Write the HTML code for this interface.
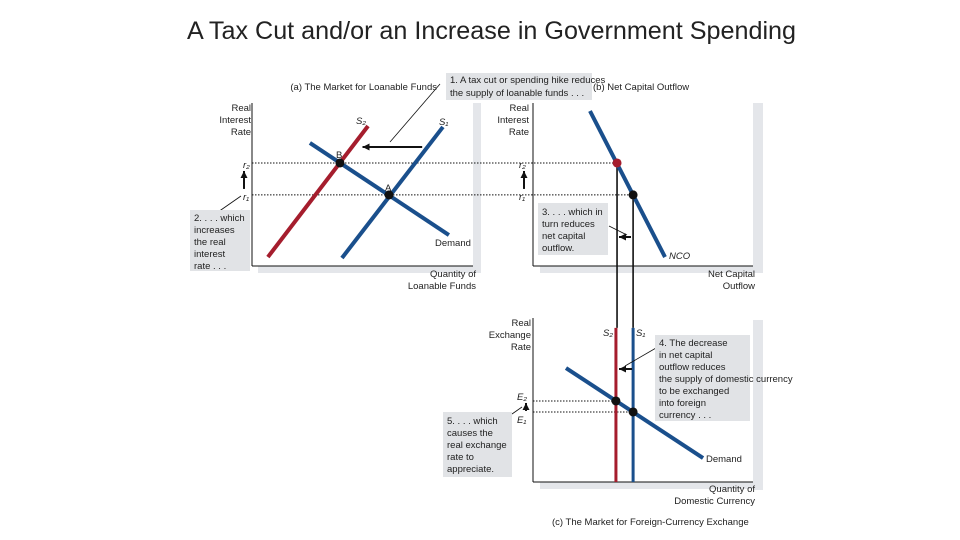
<!DOCTYPE html>
<html><head><meta charset="utf-8"><style>
html,body{margin:0;padding:0;background:#fff;}
svg{display:block;font-family:"Liberation Sans",sans-serif;}
</style></head><body>
<svg id="chart" width="960" height="540" viewBox="0 0 960 540" xmlns="http://www.w3.org/2000/svg">
<text x="187" y="39" font-size="25" textLength="609" lengthAdjust="spacingAndGlyphs" fill="#222">A Tax Cut and/or an Increase in Government Spending</text>
<!-- panel shadows -->
<rect x="473" y="103" width="8" height="170" fill="#e4e6ea"/>
<rect x="258" y="266" width="222" height="7" fill="#e4e6ea"/>
<rect x="753" y="103" width="10" height="170" fill="#e4e6ea"/>
<rect x="540" y="266" width="222" height="7" fill="#e4e6ea"/>
<rect x="753" y="320" width="10" height="170" fill="#e4e6ea"/>
<rect x="540" y="482" width="222" height="7" fill="#e4e6ea"/>
<g id="marks"></g>
<g id="labels" font-size="9.5" fill="#222">
<text x="437" y="90" text-anchor="end">(a) The Market for Loanable Funds</text>
<rect x="446" y="73" width="146" height="27" fill="#e1e3e6"/>
<text x="450" y="83">1. A tax cut or spending hike reduces</text>
<text x="450" y="96">the supply of loanable funds . . .</text>
<text x="593" y="90">(b) Net Capital Outflow</text>
<text x="251" y="111" text-anchor="end">Real</text>
<text x="251" y="123" text-anchor="end">Interest</text>
<text x="251" y="135" text-anchor="end">Rate</text>
<text x="529" y="111" text-anchor="end">Real</text>
<text x="529" y="123" text-anchor="end">Interest</text>
<text x="529" y="135" text-anchor="end">Rate</text>
<text x="476" y="277" text-anchor="end">Quantity of</text>
<text x="476" y="289" text-anchor="end">Loanable Funds</text>
<text x="755" y="277" text-anchor="end">Net Capital</text>
<text x="755" y="289" text-anchor="end">Outflow</text>
<text x="531" y="326" text-anchor="end">Real</text>
<text x="531" y="338" text-anchor="end">Exchange</text>
<text x="531" y="350" text-anchor="end">Rate</text>
<text x="755" y="492" text-anchor="end">Quantity of</text>
<text x="755" y="504" text-anchor="end">Domestic Currency</text>
<text x="552" y="525">(c) The Market for Foreign-Currency Exchange</text>
<rect x="190" y="210" width="60" height="61" fill="#e1e3e6"/>
<text x="194" y="221">2. . . . which</text>
<text x="194" y="233">increases</text>
<text x="194" y="245">the real</text>
<text x="194" y="257">interest</text>
<text x="194" y="269">rate . . .</text>
<rect x="538" y="203" width="70" height="52" fill="#e1e3e6"/>
<text x="542" y="215">3. . . . which in</text>
<text x="542" y="227">turn reduces</text>
<text x="542" y="239">net capital</text>
<text x="542" y="251">outflow.</text>
<rect x="655" y="335" width="95" height="86" fill="#e1e3e6"/>
<text x="659" y="346">4. The decrease</text>
<text x="659" y="358">in net capital</text>
<text x="659" y="370">outflow reduces</text>
<text x="659" y="382">the supply of domestic currency</text>
<text x="659" y="394">to be exchanged</text>
<text x="659" y="406">into foreign</text>
<text x="659" y="418">currency . . .</text>
<rect x="443" y="412" width="69" height="65" fill="#e1e3e6"/>
<text x="447" y="424">5. . . . which</text>
<text x="447" y="436">causes the</text>
<text x="447" y="448">real exchange</text>
<text x="447" y="460">rate to</text>
<text x="447" y="472">appreciate.</text>
</g>
</svg>
<script>
// Panel (a) loanable funds, data units 0-100
const aS2 = [[7.2,5.5],[52.5,85.9]];
const aS1 = [[40.7,4.9],[86.4,85.3]];
const aDemand = [[26.2,75.5],[89.1,19.0]];
const aRates = [63.2,43.6];        // r2, r1
const aEqX = [39.8,62.0];          // B, A
// Panel (b) NCO
const bNCO = [[25.9,95.1],[60.0,5.5]];
const bEqX = [38.2,45.5];          // at r2, r1
// Panel (c) foreign-currency exchange
const cSupplyX = [37.7,45.5];      // S2, S1
const cDemand = [[15,69.5],[77.3,14.6]];
const cRates = [49.4,42.7];        // E2, E1

const NS='http://www.w3.org/2000/svg';
const g=document.getElementById('marks');
function mk(tag,attrs){const e=document.createElementNS(NS,tag);for(const k in attrs)e.setAttribute(k,attrs[k]);g.appendChild(e);return e;}
function scale(x0,x1,y0,y1){return {x:v=>x0+(x1-x0)*v/100,y:v=>y0+(y1-y0)*v/100};}
const A=scale(252,473,266,103), B=scale(533,753,266,103), C=scale(533,753,482,318);
const RED='#a51d2d', BLUE='#1a4f8c';
function seg(s,p,color,w,name){const l=mk('line',{x1:s.x(p[0][0]),y1:s.y(p[0][1]),x2:s.x(p[1][0]),y2:s.y(p[1][1]),stroke:color,'stroke-width':w});

return l;}
function line(x1,y1,x2,y2,attrs,name){const l=mk('line',Object.assign({x1,y1,x2,y2,stroke:'#111','stroke-width':1},attrs));

return l;}
function dot(x,y,color,name){const c=mk('circle',{cx:x,cy:y,r:4.5,fill:color});

}
function txt(x,y,s,name,attrs){const t=mk('text',Object.assign({x,y,'font-size':9.5,fill:'#222'},attrs||{}));t.textContent=s;

}
function arrow(x1,y1,x2,y2,name){line(x1,y1,x2,y2,{'stroke-width':2},name);
const dx=x2-x1,dy=y2-y1,L=Math.hypot(dx,dy),ux=dx/L,uy=dy/L;
const p=mk('polygon',{points:`${x2},${y2} ${x2-ux*7-uy*3.5},${y2-uy*7+ux*3.5} ${x2-ux*7+uy*3.5},${y2-uy*7-ux*3.5}`,fill:'#111'});

}

aRates.forEach((r,i)=>{line(A.x(0),A.y(r),B.x(bEqX[i]),A.y(r),{'stroke-dasharray':'1.5,1.5'},'rate-guide-'+i);});
cRates.forEach((r,i)=>{line(C.x(0),C.y(r),C.x(cSupplyX[i]),C.y(r),{'stroke-dasharray':'1.5,1.5'},'exchange-guide-'+i);});
bEqX.forEach((x,i)=>{line(B.x(x),B.y(aRates[i]),B.x(x),C.y(94),{'stroke-width':1.6},'nco-link-'+i);});
[[A,'a'],[B,'b'],[C,'c']].forEach(([s,n])=>{line(s.x(0),s.y(100),s.x(0),s.y(0),{},n+'-y-axis');line(s.x(0),s.y(0),s.x(100),s.y(0),{},n+'-x-axis');});
seg(A,aS2,RED,4,'supply-s2');
seg(A,aS1,BLUE,4,'supply-s1');
seg(A,aDemand,BLUE,4,'loanable-demand');
dot(A.x(aEqX[0]),A.y(aRates[0]),'#111','point-b');
dot(A.x(aEqX[1]),A.y(aRates[1]),'#111','point-a');
seg(B,bNCO,BLUE,4,'nco-curve');
dot(B.x(bEqX[0]),B.y(aRates[0]),RED,'nco-point-r2');
dot(B.x(bEqX[1]),B.y(aRates[1]),'#111','nco-point-r1');
cSupplyX.forEach((x,i)=>{line(C.x(x),C.y(94),C.x(x),C.y(0),{stroke:i?BLUE:RED,'stroke-width':3},i?'fx-supply-s1':'fx-supply-s2');});
seg(C,cDemand,BLUE,4,'fx-demand');
cRates.forEach((r,i)=>dot(C.x(cSupplyX[i]),C.y(r),'#111','fx-eq-'+i));
arrow(A.x(77),A.y(73),A.x(50),A.y(73),'supply-shift-arrow');
arrow(244,A.y(aRates[1])-6,244,A.y(aRates[0])+8,'a-rate-arrow');
arrow(524,A.y(aRates[1])-6,524,A.y(aRates[0])+8,'b-rate-arrow');
arrow(631,237,619,237,'nco-shift-arrow');
arrow(632,369,619,369,'fx-shift-arrow');
arrow(526,C.y(cRates[1])-1,526,C.y(cRates[0])+2,'fx-rate-arrow');
line(440,84,390,142,{'stroke-width':0.8},'leader-1');
line(218,212,241,196,{'stroke-width':0.8},'leader-2');
line(609,226,627,235,{'stroke-width':0.8},'leader-3');
line(656,348,625,366,{'stroke-width':0.8},'leader-4');
line(512,414,522,407,{'stroke-width':0.8},'leader-5');
txt(356,124,'S₂','s2-label',{'font-style':'italic'});
txt(439,125,'S₁','s1-label',{'font-style':'italic'});
txt(336,158,'B','b-label');
txt(385,191,'A','a-label');
txt(435,246,'Demand','a-demand-label');
txt(243,168,'r₂','a-r2-label',{'font-style':'italic'});
txt(243,200,'r₁','a-r1-label',{'font-style':'italic'});
txt(519,168,'r₂','b-r2-label',{'font-style':'italic'});
txt(519,200,'r₁','b-r1-label',{'font-style':'italic'});
txt(669,259,'NCO','nco-label',{'font-style':'italic'});
txt(603,336,'S₂','fx-s2-label',{'font-style':'italic'});
txt(636,336,'S₁','fx-s1-label',{'font-style':'italic'});
txt(706,462,'Demand','fx-demand-label');
txt(517,400,'E₂','e2-label',{'font-style':'italic'});
txt(517,423,'E₁','e1-label',{'font-style':'italic'});
</script>
</body></html>
